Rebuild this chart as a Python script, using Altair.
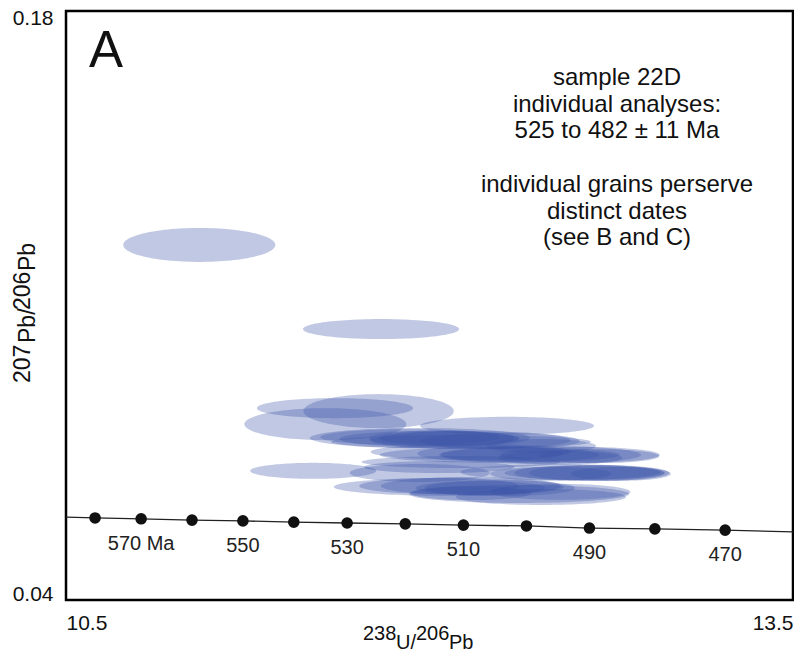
import altair as alt
import pandas as pd

# ---------------- data ----------------
# concordia age markers (Ma) and their Tera-Wasserburg coordinates
ages = [580, 570, 560, 550, 540, 530, 520, 510, 500, 490, 480, 470]
conc_x = [10.62, 10.81, 11.02, 11.23, 11.44, 11.66, 11.90, 12.14, 12.40, 12.66, 12.93, 13.22]
conc_y = [0.0595, 0.0593, 0.0590, 0.0588, 0.0585, 0.0583, 0.0581, 0.0578, 0.0576, 0.0571, 0.0569, 0.0566]
age_labels = ["", "570 Ma", "", "550", "", "530", "", "510", "", "490", "", "470"]

# concordia curve end points (extends across the plot)
curve_x = [10.5, 13.5]
curve_y = [0.0597, 0.0562]

# analyses: ellipse centres and half axes (238U/206Pb, 207Pb/206Pb)
ell_x = [11.05, 11.80, 11.61, 11.79, 11.57, 12.32, 11.96, 12.00, 12.17, 12.29,
         12.13, 12.46, 12.29, 12.46, 12.62, 12.17, 12.54, 11.52, 11.96, 12.54,
         12.70, 12.64, 12.08, 12.17, 12.29, 12.37, 12.54, 12.04, 12.13,
         11.92, 12.08, 12.37, 12.70, 12.66, 12.79, 12.04, 12.21, 12.46, 12.17,
         12.25, 12.50, 12.05]
ell_y = [0.1244, 0.1044, 0.0856, 0.0849, 0.0818, 0.0814, 0.0785, 0.0783, 0.0780, 0.0778,
         0.0776, 0.0766, 0.0745, 0.0745, 0.0745, 0.0752, 0.0738, 0.0707, 0.0702, 0.0704,
         0.0702, 0.0702, 0.0669, 0.0671, 0.0666, 0.0652, 0.0657, 0.0716, 0.0728,
         0.0787, 0.0785, 0.0745, 0.0742, 0.0702, 0.0700, 0.0671, 0.0666, 0.0645, 0.0654,
         0.0748, 0.0700, 0.0784]
ell_rx = [0.314, 0.322, 0.322, 0.310, 0.334, 0.359, 0.454, 0.371, 0.413, 0.330,
          0.536, 0.227, 0.495, 0.413, 0.330, 0.413, 0.256, 0.260, 0.289, 0.413,
          0.289, 0.330, 0.475, 0.371, 0.310, 0.454, 0.289, 0.310, 0.410,
          0.371, 0.289, 0.330, 0.248, 0.310, 0.206, 0.330, 0.268, 0.351, 0.248,
          0.300, 0.250, 0.300]
ell_ry = [0.00404, 0.00238, 0.00238, 0.00404, 0.00380, 0.00214, 0.00238, 0.00190, 0.00214, 0.00190,
          0.00166, 0.00166, 0.00190, 0.00214, 0.00190, 0.00190, 0.00166, 0.00190, 0.00214, 0.00190,
          0.00190, 0.00166, 0.00214, 0.00214, 0.00190, 0.00214, 0.00190, 0.00143, 0.00143,
          0.00190, 0.00166, 0.00166, 0.00166, 0.00190, 0.00166, 0.00190, 0.00166, 0.00190, 0.00166,
          0.00190, 0.00166, 0.00190]

ell_df = pd.DataFrame({"id": list(range(len(ell_x))), "cx": ell_x, "cy": ell_y,
                       "rx": ell_rx, "ry": ell_ry})
dots_df = pd.DataFrame({"age": ages, "x": conc_x, "y": conc_y, "label": age_labels})
curve_df = pd.DataFrame({"x": curve_x[:1] + conc_x + curve_x[1:],
                         "y": curve_y[:1] + conc_y + curve_y[1:]})

FONT = "Liberation Sans"
xs = alt.Scale(domain=[10.5, 13.5], nice=False, zero=False)
ys = alt.Scale(domain=[0.04, 0.18], nice=False, zero=False)

x_axis = alt.Axis(values=[10.5, 13.5], format=".1f", title=None, ticks=False, grid=False,
                  domain=False, labelFontSize=21, labelFont=FONT, labelColor="#111",
                  labelPadding=12, labelFlush=True)
y_axis = alt.Axis(values=[0.04, 0.18], format=".2f", title=None, ticks=False, grid=False,
                  domain=False, labelFontSize=21, labelFont=FONT, labelColor="#111",
                  labelPadding=13, labelFlush=True, labelFlushOffset=4)

# ellipses drawn as areas: sample each ellipse with a Vega sequence
ellipses = (
    alt.Chart(ell_df)
    .transform_calculate(k="sequence(0, 61)")
    .transform_flatten(["k"])
    .transform_calculate(
        ex="datum.cx + datum.rx * cos(PI * datum.k / 60)",
        ey1="datum.cy + datum.ry * sin(PI * datum.k / 60)",
        ey2="datum.cy - datum.ry * sin(PI * datum.k / 60)",
    )
    .mark_area(color="#3a55a8", opacity=0.32)
    .encode(
        x=alt.X("ex:Q", scale=xs, axis=x_axis),
        y=alt.Y("ey1:Q", scale=ys, axis=y_axis),
        y2="ey2:Q",
        detail="id:N",
    )
)

curve = alt.Chart(curve_df).mark_line(color="#222", strokeWidth=1.3).encode(
    x=alt.X("x:Q", scale=xs), y=alt.Y("y:Q", scale=ys)
)
dots = alt.Chart(dots_df).mark_point(filled=True, color="#111", opacity=1, size=135).encode(
    x=alt.X("x:Q", scale=xs), y=alt.Y("y:Q", scale=ys)
)
dot_labels = alt.Chart(dots_df).mark_text(
    font=FONT, fontSize=20, color="#222", dy=25, baseline="middle"
).encode(x=alt.X("x:Q", scale=xs), y=alt.Y("y:Q", scale=ys), text="label:N")

one = alt.Data(values=[{}])


def txt(s, x, y, size=20, align="left", baseline="alphabetic", angle=0, **kw):
    props = dict(font=FONT, fontSize=size, align=align, baseline=baseline, color="#111", **kw)
    if angle:
        props["angle"] = angle
    return alt.Chart(one).mark_text(**props).encode(
        x=alt.value(x), y=alt.value(y), text=alt.value(s)
    )


# panel letter
letter = txt("A", 23, 56, size=51)

# annotation blocks
def block(s, y):
    return alt.Chart(one).mark_text(
        font=FONT, fontSize=24, align="center", baseline="top", lineHeight=26.5,
        lineBreak="\n", color="#111"
    ).encode(x=alt.value(551), y=alt.value(y), text=alt.value(s))


note1 = block("sample 22D\nindividual analyses:\n525 to 482 \u00b1 11 Ma", 55)
note2 = block("individual grains perserve\ndistinct dates\n(see B and C)", 162)

# x-axis title: 238U/206Pb
xt = [
    txt("238", 297, 629, size=20),
    txt("U/", 330, 638, size=20),
    txt("206", 350, 629, size=20),
    txt("Pb", 383, 638, size=20),
]
# y-axis title: 207Pb/206Pb (rotated)
yt = [
    txt("207", -36, 372, size=23, angle=270),
    txt("Pb/", -31, 332, size=23, angle=270),
    txt("206", -36, 299, size=23, angle=270),
    txt("Pb", -31, 260, size=23, angle=270),
]

chart = alt.layer(ellipses, curve, dots, dot_labels, letter, note1, note2, *xt, *yt).properties(
    width=727, height=589,
    padding={"left": 66, "top": 11, "right": 1, "bottom": 52},
    autosize="none",
).configure_view(stroke="black", strokeWidth=2.5)

chart.save("out.html", embed_options={"renderer": "svg", "actions": False})
